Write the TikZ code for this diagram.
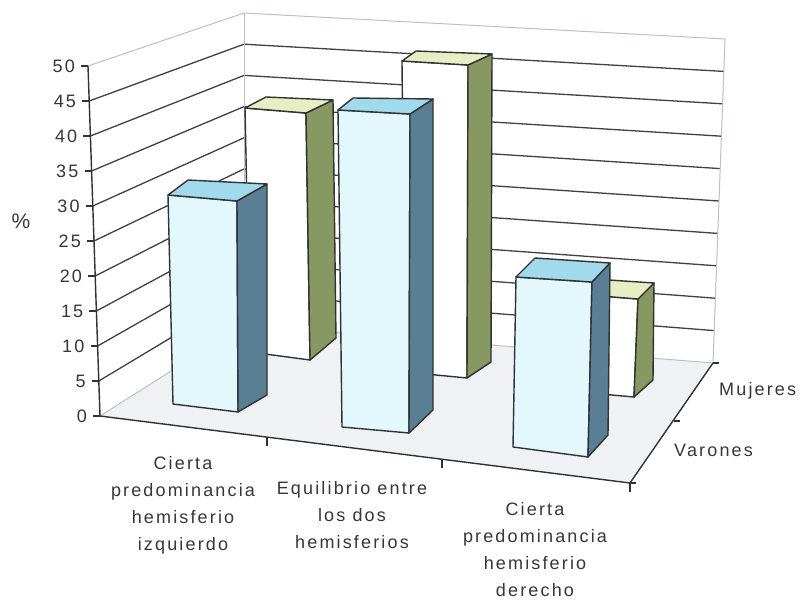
\documentclass[tikz,border=0pt]{standalone}
\usepackage{fontspec}
\setmainfont{Liberation Sans}
\newfontfamily\labfont[LetterSpace=12]{Liberation Sans}
\definecolor{vfront}{RGB}{226,248,253}
\definecolor{vside}{RGB}{90,126,148}
\definecolor{vtop}{RGB}{160,218,236}
\definecolor{mfront}{RGB}{255,255,255}
\definecolor{mside}{RGB}{136,152,98}
\definecolor{mtop}{RGB}{232,238,196}
\definecolor{floorc}{RGB}{239,241,244}
\definecolor{edgec}{RGB}{50,50,50}
\definecolor{gridc}{RGB}{65,65,65}
\definecolor{faintc}{RGB}{185,192,205}
\definecolor{textc}{RGB}{55,55,55}
\newcommand\mybar[8]{%
  \filldraw[edge, fill=#1front] #2 -- #3 -- #7 -- #6 -- cycle;
  \filldraw[edge, fill=#1side] #3 -- #4 -- #8 -- #7 -- cycle;
  \filldraw[edge, fill=#1top] #2 -- #3 -- #4 -- #5 -- cycle;
}
\begin{document}
\begin{tikzpicture}[x=1pt,y=-1pt,
  edge/.style={draw=edgec, line width=1.4pt, line join=round},
  gridl/.style={draw=gridc, line width=1.3pt},
  faintl/.style={draw=faintc, line width=1pt},
  lab/.style={font=\labfont\fontsize{18}{27}\selectfont, text=textc, align=center, inner sep=0pt},
  num/.style={font=\labfont\fontsize{18}{20}\selectfont, text=textc, inner sep=0pt, anchor=east},
]
\useasboundingbox (0,0) rectangle (804,600);
\fill[white] (0,0) rectangle (804,600);
% frame corners
\coordinate (FL) at (100,416);
\coordinate (BL) at (244,325);
\coordinate (BR) at (713,363);
\coordinate (FR) at (630,483);
\coordinate (TLF) at (88,66);
\coordinate (TLB) at (244,13);
\coordinate (TRB) at (725,39);
% floor
\fill[floorc] (FL) -- (BL) -- (BR) -- (FR) -- cycle;
% gridlines
\foreach \k in {5,10,...,45} {
  \draw[gridl] ({100-0.24*\k},{416-7*\k}) -- (244,{325-6.24*\k}) -- ({713+0.24*\k},{363-6.48*\k});
}
\draw[faintl] (TLF) -- (TLB) -- (TRB) -- (BR) -- (BL) -- (FL);
\draw[faintl] (TLB) -- (BL);
% Mujeres (back row)
\mybar{m}{(245,108)}{(306,113)}{(333,100)}{(266,97)}{(250,352)}{(310,360)}{(336,338)}
\mybar{m}{(402,61)}{(468,65)}{(492,54)}{(416,51)}{(405,372)}{(467,378)}{(491,362)}
\mybar{m}{(576,294)}{(638,299)}{(654,283)}{(594,279)}{(578,392)}{(634,397)}{(653,380)}
% Varones (front row)
\mybar{v}{(168,195)}{(237,201)}{(267,184)}{(188,180)}{(173,404)}{(238,412)}{(267,395)}
\mybar{v}{(338,110)}{(410,114)}{(433,99)}{(353,98)}{(342,427)}{(409,433)}{(433,410)}
\mybar{v}{(516,277)}{(592,282)}{(610,263)}{(535,258)}{(513,447)}{(588,457)}{(608,435)}
% axes
\draw[edge] (FL) -- (TLF);
\draw[edge] (FL) -- (FR) -- (BR);
\foreach \k in {0,5,...,50} {
  \draw[edge] ({100-0.24*\k-7},{416-7*\k}) -- ({100-0.24*\k},{416-7*\k});
  \node[num] (y\k) at ({100-0.24*\k-13},{416-7*\k}) {\k};
}
\draw[edge] (267,437) -- (267,446);
\draw[edge] (442,459) -- (442,468);
\draw[edge] (FR) -- (630,492);
\draw[edge] (FR) -- (636,483);
\draw[edge] (674,421) -- (680,421);
\draw[edge] (BR) -- (719,363);
% labels
\node[lab, font=\labfont\fontsize{21}{24}\selectfont] (pct) at (21,221) {\%};
\node[lab] (c1) at (183,505) {Cierta\\predominancia\\hemisferio\\izquierdo};
\node[lab] (c2) at (352,515) {Equilibrio entre\\los dos\\hemisferios};
\node[lab] (c3) at (535,550) {Cierta\\predominancia\\hemisferio\\derecho};
\node[lab, anchor=west] (muj) at (719,391) {Mujeres};
\node[lab, anchor=west] (var) at (674,450) {Varones};
\end{tikzpicture}
\end{document}
